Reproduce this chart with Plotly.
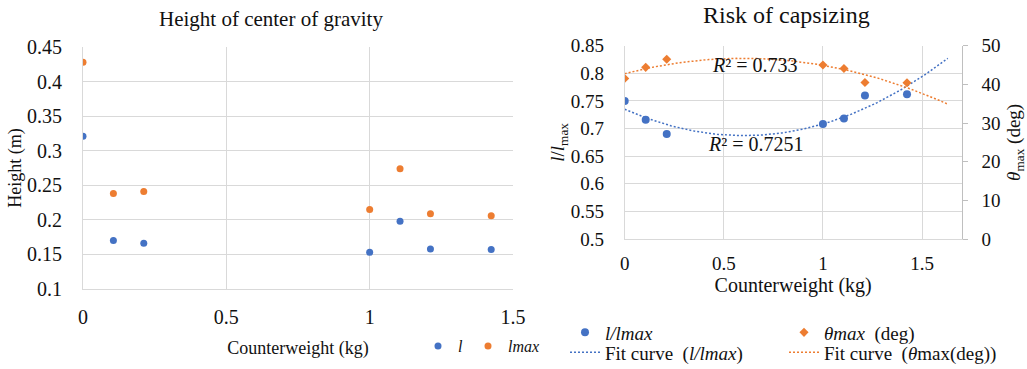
import numpy as np
import plotly.graph_objects as go

# ---------------- data ----------------
counterweight_kg = [0.0, 0.106, 0.212, 1.0, 1.106, 1.212, 1.424]
height_l = [0.321, 0.170, 0.166, 0.153, 0.198, 0.158, 0.157]
height_lmax = [0.428, 0.238, 0.241, 0.215, 0.274, 0.209, 0.206]
ratio_l_lmax = [0.750, 0.716, 0.690, 0.708, 0.718, 0.760, 0.762]
theta_max_deg = [41.5, 44.4, 46.5, 45.0, 44.1, 40.5, 40.4]
r2_ratio_text = "0.7251"
r2_theta_text = "0.733"
fit_x_end = 1.63

# ---------------- styling ----------------
BLUE = "#4472C4"
ORANGE = "#ED7D31"
GRID = "#d9d9d9"
TXT = "#111111"
FONT = "Liberation Serif"
W, H = 1027, 369
DOTS = "2px,2px"


def f(size, **kw):
    return dict(family=FONT, size=size, color=TXT, **kw)


def px_x(p):
    return p / W


def px_y(p):
    return 1 - p / H


# quadratic trendlines (as Excel does)
fit_x = np.linspace(0, fit_x_end, 120)
c_ratio = np.polyfit(counterweight_kg, ratio_l_lmax, 2)
c_theta = np.polyfit(counterweight_kg, theta_max_deg, 2)

fig = go.Figure()

# left chart
fig.add_trace(go.Scatter(x=counterweight_kg, y=height_l, mode="markers", name="<i>l</i>",
                         marker=dict(color=BLUE, size=7), xaxis="x", yaxis="y", legend="legend"))
fig.add_trace(go.Scatter(x=counterweight_kg, y=height_lmax, mode="markers", name="<i>lmax</i>",
                         marker=dict(color=ORANGE, size=7), xaxis="x", yaxis="y", legend="legend"))

# right chart
fig.add_trace(go.Scatter(x=counterweight_kg, y=ratio_l_lmax, mode="markers", name="<i>l/lmax</i>",
                         marker=dict(color=BLUE, size=8), xaxis="x2", yaxis="y2", legend="legend2"))
fig.add_trace(go.Scatter(x=counterweight_kg, y=theta_max_deg, mode="markers",
                         name="<i>θmax</i>\u00a0\u00a0(deg)",
                         marker=dict(color=ORANGE, size=7, symbol="diamond"), xaxis="x2", yaxis="y3",
                         legend="legend2"))
fig.add_trace(go.Scatter(x=fit_x, y=np.polyval(c_ratio, fit_x), mode="lines",
                         name="Fit curve\u00a0\u00a0(<i>l/lmax</i>)",
                         line=dict(color=BLUE, width=1.5, dash=DOTS), xaxis="x2", yaxis="y2",
                         legend="legend3"))
fig.add_trace(go.Scatter(x=fit_x, y=np.polyval(c_theta, fit_x), mode="lines",
                         name="Fit curve\u00a0\u00a0(<i>θ</i>max(deg))",
                         line=dict(color=ORANGE, width=1.5, dash=DOTS), xaxis="x2", yaxis="y3",
                         legend="legend3"))

axis_common = dict(showgrid=True, gridcolor=GRID, gridwidth=1, zeroline=False,
                   showline=True, linecolor=GRID, fixedrange=True)

fig.update_layout(
    width=W, height=H, autosize=False,
    margin=dict(l=0, r=0, t=0, b=0, autoexpand=False),
    paper_bgcolor="white", plot_bgcolor="white",
    font=f(16),
    xaxis=dict(domain=[px_x(83), px_x(513)], range=[0, 1.5], dtick=0.5, anchor="y",
               tickfont=f(20), ticklabelstandoff=10,
               title=dict(text="Counterweight (kg)", font=f(18), standoff=14),
               **axis_common),
    yaxis=dict(domain=[px_y(289), px_y(47)], range=[0.1, 0.45], dtick=0.05, anchor="x",
               tickfont=f(20), ticklabelstandoff=16,
               title=dict(text="Height (m)", font=f(18), standoff=0),
               **axis_common),
    xaxis2=dict(domain=[px_x(624.7), px_x(961.7)], range=[0, 1.7], tickvals=[0, 0.5, 1, 1.5],
                anchor="y2", tickfont=f(19), ticklabelstandoff=7,
                title=dict(text="Counterweight (kg)", font=f(20), standoff=5),
                **axis_common),
    yaxis2=dict(domain=[px_y(239), px_y(45.7)], range=[0.5, 0.85], dtick=0.05, anchor="x2",
                tickfont=f(19), ticklabelstandoff=16,
                title=dict(text="<i>l</i>/<i>l</i><sub>max</sub>", font=f(19), standoff=0),
                **axis_common),
    yaxis3=dict(overlaying="y2", side="right", anchor="x2", range=[0, 50], dtick=10,
                showgrid=False, zeroline=False, showline=True, linecolor="#bfbfbf",
                ticks="outside", ticklen=5, tickcolor="#bfbfbf", fixedrange=True,
                tickfont=f(19), ticklabelstandoff=10,
                title=dict(text="<i>θ</i><sub>max</sub> (deg)", font=f(19), standoff=8)),
    legend=dict(orientation="h", x=px_x(418), xanchor="left", y=px_y(346), yanchor="middle",
                font=f(16), bgcolor="rgba(0,0,0,0)", itemwidth=30),
    legend2=dict(orientation="h", x=px_x(565), xanchor="left", y=px_y(332.5), yanchor="middle",
                 font=f(19), bgcolor="rgba(0,0,0,0)", itemwidth=30,
                 entrywidth=174, entrywidthmode="pixels"),
    legend3=dict(orientation="h", x=px_x(565), xanchor="left", y=px_y(352.5), yanchor="middle",
                 font=f(19), bgcolor="rgba(0,0,0,0)", itemwidth=30,
                 entrywidth=174, entrywidthmode="pixels"),
    annotations=[
        dict(text="Height of center of gravity", xref="paper", yref="paper",
             x=px_x(271), y=px_y(19), xanchor="center", yanchor="middle", showarrow=False,
             font=f(21)),
        dict(text="Risk of capsizing", xref="paper", yref="paper",
             x=px_x(786), y=px_y(15), xanchor="center", yanchor="middle", showarrow=False,
             font=f(24)),
        dict(text="<i>R</i>² = " + r2_theta_text, xref="x2", yref="y2", x=0.657, y=0.815,
             xanchor="center", yanchor="middle", showarrow=False, font=f(20)),
        dict(text="<i>R</i>² = " + r2_ratio_text, xref="x2", yref="y2", x=0.662, y=0.672,
             xanchor="center", yanchor="middle", showarrow=False, font=f(20)),
    ],
)

fig.write_html(
    "out.html",
    config={"displayModeBar": False},
    post_script="document.body.style.margin='0';document.body.style.overflow='hidden';",
)
